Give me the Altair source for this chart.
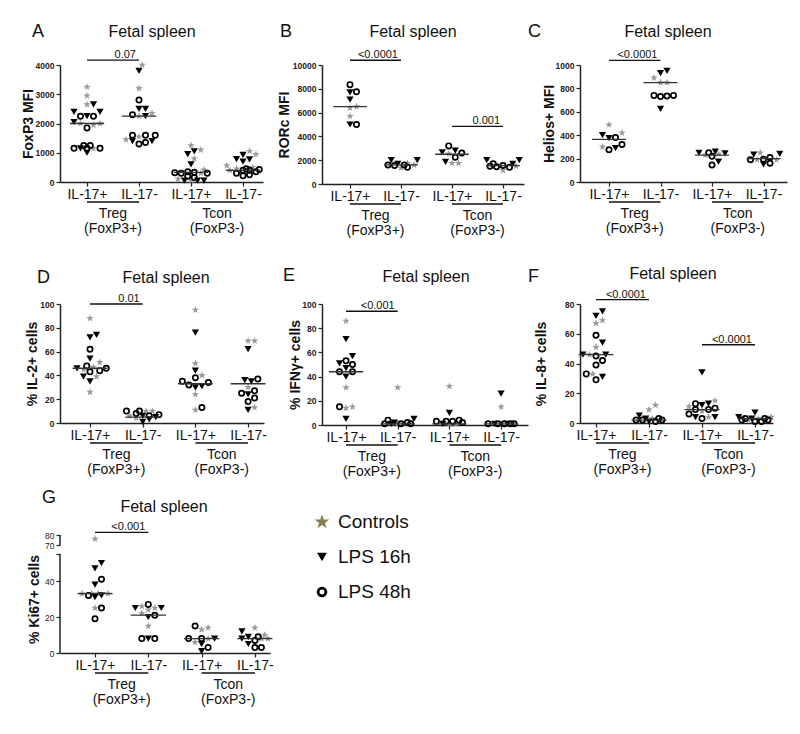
import altair as alt
import numpy as np
import pandas as pd

FONT = "Liberation Sans"
TYPES = ["Controls", "LPS 16h", "LPS 48h"]
GROUP_LABELS = ["IL-17+", "IL-17-", "IL-17+", "IL-17-"]
CELL_TYPES = ["Treg", "Tcon"]
CELL_SUBS = ["(FoxP3+)", "(FoxP3-)"]

# ---------------- data ----------------
# Panel A: FoxP3 MFI
A_CTRL = [[3250, 2950, 2650, 2000, 2000, 1950, 1150],
          [4000, 3200, 2350, 2250, 1550, 1450],
          [1250, 1100, 800, 420, 300, 100, 50],
          [1050, 950, 560, 500, 450, 400]]
A_L16 = [[2650, 2400, 2400, 2250, 2050, 1150, 1000],
         [3800, 2500, 2500, 2250, 1400, 1400],
         [1050, 950, 600, 50, 50, 50],
         [930, 780, 770, 700]]
A_L48 = [[2250, 2250, 1850, 1250, 1250, 1150, 1150, 1150],
         [2800, 2300, 1600, 1600, 1600, 1350, 1300],
         [350, 330, 320, 300, 300, 200, 150],
         [450, 430, 400, 400, 350, 300, 250, 210]]
A_MED = [2000, 2250, 330, 400]
A_SIG = [(1, 2, 4170, "0.07")]

# Panel B: RORc MFI
B_CTRL = [[6500, 6400, 5700], [1750, 1600, 1350], [2550, 1750, 1750], [1500, 1150]]
B_L16 = [[7700, 7100, 5000], [2000, 2000, 1700], [2800, 2650, 1850], [2000, 2000, 1700]]
B_L48 = [[8350, 7750, 5000], [1600, 1550, 1400, 1600], [3200, 2600, 2250],
         [1700, 1550, 1450, 1400, 1500]]
B_MED = [6500, 1600, 2500, 1550]
B_SIG = [(1, 2, 10400, "<0.0001"), (3, 4, 4850, "0.001")]

# Panel C: Helios+ MFI
C_CTRL = [[490, 420, 300], [890, 850, 850], [240, 230], [250, 190, 190]]
C_L16 = [[400, 375, 290], [950, 930, 625], [260, 250, 245, 175], [235, 240, 150]]
C_L48 = [[380, 320, 275], [740, 735, 730, 740], [250, 220, 145], [210, 195, 190, 160]]
C_MED = [365, 850, 230, 200]
C_SIG = [(1, 2, 1040, "<0.0001")]

# Panel D: % IL-2+ cells
D_CTRL = [[88, 51, 47, 45, 39, 26], [10, 10, 4, 6], [95, 50, 40, 24, 11], [69, 69, 30, 13]]
D_L16 = [[74, 72, 54, 46, 39, 35], [6, 5, 3, 1], [76, 44, 31, 30], [62, 36, 35, 24, 11]]
D_L48 = [[62, 48, 46, 43, 44], [10, 10, 8, 7, 6], [38, 35, 34, 32, 13], [37, 27, 25, 21, 18]]
D_MED = [46, 5, 33, 33]
D_SIG = [(1, 2, 100, "0.01")]

# Panel E: % IFNg+ cells
E_CTRL = [[86, 31, 15, 14], [31, 1, 1], [32, 1, 1], [15, 1]]
E_L16 = [[71, 57, 51, 47, 40, 5], [5, 2, 1], [10, 1], [26, 1, 1]]
E_L48 = [[53, 50, 44, 44, 15], [4, 2, 1, 1, 1], [4, 3, 3, 3, 2], [1, 1, 1, 1, 1]]
E_MED = [44, 1, 1, 1]
E_SIG = [(1, 2, 94, "<0.001")]

# Panel F: % IL-8+ cells
F_CTRL = [[69, 67, 51, 46, 33], [12, 9, 3], [15, 11, 8, 4], [4, 3, 2]]
F_L16 = [[75, 72, 54, 46, 46, 31], [5, 3, 1], [34, 13, 12, 4, 4], [7, 4, 3]]
F_L48 = [[59, 45, 42, 39, 33, 29], [3, 2, 2, 1, 2], [13, 10, 9, 9, 6, 3], [3, 3, 2, 2, 1, 1]]
F_MED = [46, 2, 9, 3]
F_SIG = [(1, 2, 83, "<0.0001"), (3, 4, 52.6, "<0.0001")]

# Panel G: % Ki67+ cells (broken axis)
G_CTRL = [[76, 33, 33, 33, 33, 25], [26, 25, 24, 22, 15], [14, 13, 8, 6], [14, 10, 8, 8]]
G_L16 = [[50, 47, 38, 32, 31], [25, 25, 20, 8], [8, 5, 1], [12, 9, 8, 5]]
G_L48 = [[41, 32, 25, 19], [27, 21, 8, 8], [15, 8, 8, 3], [9, 7, 3, 3]]
G_MED = [33, 21, 8, 8]
G_SIG = [(1, 2, 82.7, "<0.001")]
G_BREAK = [(0, 55), (70, 80)]

PANEL_META = {
    "A": dict(data=(A_CTRL, A_L16, A_L48), med=A_MED, sig=A_SIG, ytitle="FoxP3 MFI",
              ydom=[0, 4000], yticks=[0, 1000, 2000, 3000, 4000]),
    "B": dict(data=(B_CTRL, B_L16, B_L48), med=B_MED, sig=B_SIG, ytitle="RORc MFI",
              ydom=[0, 10000], yticks=[0, 2000, 4000, 6000, 8000, 10000]),
    "C": dict(data=(C_CTRL, C_L16, C_L48), med=C_MED, sig=C_SIG, ytitle="Helios+ MFI",
              ydom=[0, 1000], yticks=[0, 200, 400, 600, 800, 1000]),
    "D": dict(data=(D_CTRL, D_L16, D_L48), med=D_MED, sig=D_SIG, ytitle="% IL-2+ cells",
              ydom=[0, 100], yticks=[0, 20, 40, 60, 80, 100]),
    "E": dict(data=(E_CTRL, E_L16, E_L48), med=E_MED, sig=E_SIG, ytitle="% IFNγ+ cells",
              ydom=[0, 100], yticks=[0, 20, 40, 60, 80, 100]),
    "F": dict(data=(F_CTRL, F_L16, F_L48), med=F_MED, sig=F_SIG, ytitle="% IL-8+ cells",
              ydom=[0, 80], yticks=[0, 20, 40, 60, 80]),
    "G": dict(data=(G_CTRL, G_L16, G_L48), med=G_MED, sig=G_SIG, ytitle="% Ki67+ cells",
              ydom=[0, 55, 70, 80], yticks=[0, 20, 40, 55, 70, 80]),
}

# ---------------- layout (absolute page pixels of the reference) ----------------
LAYOUT = {
    "A": dict(w=203, h=117, c1=27, u=52.0, left=60, top=66, letter=(32, 38), title=(152, 38), ytx=28),
    "B": dict(w=202, h=119, c1=28, u=51.0, left=315, top=66, letter=(273, 38), title=(406, 38), ytx=277),
    "C": dict(w=207, h=117, c1=29, u=51.5, left=569, top=66, letter=(517, 38), title=(657, 38), ytx=538),
    "D": dict(w=204, h=119, c1=30, u=52.7, left=60, top=303, letter=(37, 282), title=(166, 282), ytx=32),
    "E": dict(w=206, h=121, c1=24, u=51.7, left=316, top=305, letter=(277, 282), title=(420, 283), ytx=289),
    "F": dict(w=193, h=119, c1=16, u=53.0, left=574, top=303, letter=(522, 281), title=(667, 278), ytx=535),
    "G": dict(w=210, h=108, c1=35, u=53.3, left=60, top=542, letter=(42, 500), title=(164, 509), ytx=34,
              yrange=[108, 9, 0, -10]),
}
LEGEND_LAYOUT = dict(left=322, top=546, w=150, h=110, sym_x=322, txt_x=338, ys=(523, 593))

GREY = "#9a9a9a"
STAR = ("M0,-1L0.235,-0.324L0.951,-0.309L0.38,0.124L0.588,0.809L0,0.4"
        "L-0.588,0.809L-0.38,0.124L-0.951,-0.309L-0.235,-0.324Z")
DIAM = 6.5
MAX_SPREAD = 17.0


def ypx_fn(meta, lay):
    if "yrange" in lay:
        return lambda v: float(np.interp(v, meta["ydom"], lay["yrange"]))
    top = meta["ydom"][-1]
    return lambda v: lay["h"] - v / top * lay["h"]


def swarm(meta, lay):
    ypx = ypx_fn(meta, lay)
    step = DIAM / 2
    cands = [0.0]
    i = 1
    while i * step <= MAX_SPREAD:
        cands += [i * step, -i * step]
        i += 1
    rows = []
    for g in range(4):
        items = []
        for t, arr in zip(TYPES, meta["data"]):
            for v in arr[g]:
                items.append((v, TYPES.index(t), t))
        items.sort(key=lambda a: (a[0], a[1]))
        placed = []
        for v, _, t in items:
            yp = ypx(v)
            best, best_d = None, -1
            for c in cands:
                d = min([np.hypot(c - px, yp - py) for px, py in placed] + [1e9])
                if d >= DIAM:
                    best = c
                    break
                if d > best_d:
                    best, best_d = c, d
            placed.append((best, yp))
            rows.append(dict(x=(g + 1) + best / lay["u"], y=v, type=t))
    return pd.DataFrame(rows)


def make_panel(key):
    meta, lay = PANEL_META[key], LAYOUT[key]
    w, h, u = lay["w"], lay["h"], lay["u"]
    d0 = 1 - lay["c1"] / u
    xs = alt.Scale(domain=[d0, d0 + w / u], nice=False, zero=False)
    if "yrange" in lay:
        ys = alt.Scale(domain=meta["ydom"], range=lay["yrange"], nice=False, zero=False)
    else:
        ys = alt.Scale(domain=meta["ydom"], nice=False, zero=False)
    labexpr = "[" + ",".join("'%s'" % s for s in GROUP_LABELS) + "][round(datum.value) - 1]"
    xaxis = alt.Axis(values=[1, 2, 3, 4], labelExpr=labexpr, title=None, grid=False,
                     tickSize=4, labelPadding=1, labelFontSize=14, labelColor="#111",
                     domainColor="#222", domainWidth=1.5, tickColor="#222", tickWidth=1.2,
                     labelOverlap=False, labelFlush=False)
    ykw = dict(values=meta["yticks"], format="d", title=meta["ytitle"], grid=False, tickSize=4,
               labelPadding=2, labelFontSize=8.5, labelFontWeight="bold", labelColor="#222",
               domainColor="#222", domainWidth=1.5, tickColor="#222", tickWidth=1.2,
               titleFontSize=14, titleFontWeight="bold", titleColor="#111",
               titleX=lay["ytx"] - lay["left"], titleY=h / 2, titleAngle=270,
               titleAlign="center", titleBaseline="middle", labelOverlap=False, labelFlush=False)
    if "yrange" in lay:
        ykw["labelExpr"] = "datum.value == 55 ? '' : datum.label"
        ykw["domain"] = False
        ykw["labelFontWeight"] = "normal"
    yaxis = alt.Axis(**ykw)

    def X(f):
        return alt.X(f + ":Q", scale=xs, axis=xaxis)

    def Y(f):
        return alt.Y(f + ":Q", scale=ys, axis=yaxis)

    pts = swarm(meta, lay)
    layers = []
    layers.append(alt.Chart(pts[pts["type"] == "Controls"]).mark_point(
        shape=STAR, filled=True, color=GREY, size=62, opacity=1, strokeWidth=0
    ).encode(x=X("x"), y=Y("y")))
    layers.append(alt.Chart(pts[pts["type"] == "LPS 16h"]).mark_point(
        shape="triangle-down", filled=True, color="#000", size=52, opacity=1, strokeWidth=0
    ).encode(x=X("x"), y=Y("y")))
    layers.append(alt.Chart(pts[pts["type"] == "LPS 48h"]).mark_point(
        shape="circle", filled=False, color="#000", size=28, opacity=1, strokeWidth=1.7
    ).encode(x=X("x"), y=Y("y")))

    med = pd.DataFrame({"g": [1, 2, 3, 4], "m": meta["med"]})
    med["xa"] = med["g"] - 0.33
    med["xb"] = med["g"] + 0.33
    layers.append(alt.Chart(med).mark_rule(color="#333", strokeWidth=1.3).encode(
        x=X("xa"), x2="xb", y=Y("m")))

    sig = pd.DataFrame(meta["sig"], columns=["xa", "xb", "y", "label"])
    layers.append(alt.Chart(sig).mark_rule(color="#111", strokeWidth=1.3).encode(
        x=X("xa"), x2="xb", y=Y("y")))
    layers.append(alt.Chart(sig).mark_text(align="right", baseline="alphabetic", dx=-3, dy=-2,
                                           fontSize=11, color="#111").encode(
        x=X("xb"), y=Y("y"), text="label:N"))

    grp = pd.DataFrame({"xa": [1, 3], "xb": [2, 4], "xm": [1.5, 3.5],
                        "l1": CELL_TYPES, "l2": CELL_SUBS})
    layers.append(alt.Chart(grp).mark_rule(color="#111", strokeWidth=1.3).encode(
        x=X("xa"), x2="xb", y=alt.value(h + 20)))
    layers.append(alt.Chart(grp).mark_text(baseline="alphabetic", fontSize=14, color="#111").encode(
        x=X("xm"), y=alt.value(h + 36), text="l1:N"))
    layers.append(alt.Chart(grp).mark_text(baseline="alphabetic", fontSize=14, color="#111").encode(
        x=X("xm"), y=alt.value(h + 51), text="l2:N"))

    if "yrange" in lay:
        brk = pd.DataFrame(G_BREAK, columns=["y0", "y1"])
        layers.append(alt.Chart(brk).mark_rule(color="#222", strokeWidth=1.5).encode(
            x=alt.value(0), y=Y("y0"), y2="y1"))

    lx, lb = lay["letter"]
    layers.append(alt.Chart(pd.DataFrame({"t": [key]})).mark_text(
        align="left", baseline="alphabetic", fontSize=18, color="#111").encode(
        x=alt.value(lx - lay["left"]), y=alt.value(lb - lay["top"]), text="t:N"))
    tx, tb = lay["title"]
    layers.append(alt.Chart(pd.DataFrame({"t": ["Fetal spleen"]})).mark_text(
        align="center", baseline="alphabetic", fontSize=16, color="#111").encode(
        x=alt.value(tx - lay["left"]), y=alt.value(tb - lay["top"]), text="t:N"))

    return alt.layer(*layers).properties(width=w, height=h)


def make_legend():
    L = LEGEND_LAYOUT
    df = pd.DataFrame({"label": TYPES})
    ysc = alt.Scale(type="point", domain=TYPES, padding=0,
                    range=[L["ys"][0] - L["top"], L["ys"][1] - L["top"]])
    Yl = alt.Y("label:N", scale=ysc, axis=None)
    sx = L["sym_x"] - L["left"]
    tx = L["txt_x"] - L["left"]
    star = alt.Chart(df).transform_filter(alt.datum.label == TYPES[0]).mark_point(
        shape=STAR, filled=True, color="#8c7d50", size=240, opacity=1, strokeWidth=0
    ).encode(x=alt.value(sx), y=Yl)
    tri = alt.Chart(df).transform_filter(alt.datum.label == TYPES[1]).mark_point(
        shape="triangle-down", filled=True, color="#000", size=95, opacity=1, strokeWidth=0
    ).encode(x=alt.value(sx), y=Yl)
    circ = alt.Chart(df).transform_filter(alt.datum.label == TYPES[2]).mark_point(
        shape="circle", filled=False, color="#000", size=60, opacity=1, strokeWidth=2.8
    ).encode(x=alt.value(sx), y=Yl)
    txt = alt.Chart(df).mark_text(align="left", baseline="middle", fontSize=19, color="#111").encode(
        x=alt.value(tx), y=Yl, text="label:N")
    return alt.layer(star, tri, circ, txt).properties(width=L["w"], height=L["h"])


panels = [make_panel(k) for k in ["A", "B", "C", "D", "E", "F", "G"]]
panels.append(make_legend())

chart = alt.concat(
    *panels, columns=3, align="none", bounds="flush",
    spacing={"row": 120, "column": 52}
).properties(
    padding={"left": 13, "top": 15, "right": 2, "bottom": 2}
).configure(font=FONT).configure_view(stroke=None)

chart.save("out.html", embed_options={"renderer": "svg", "actions": False})
